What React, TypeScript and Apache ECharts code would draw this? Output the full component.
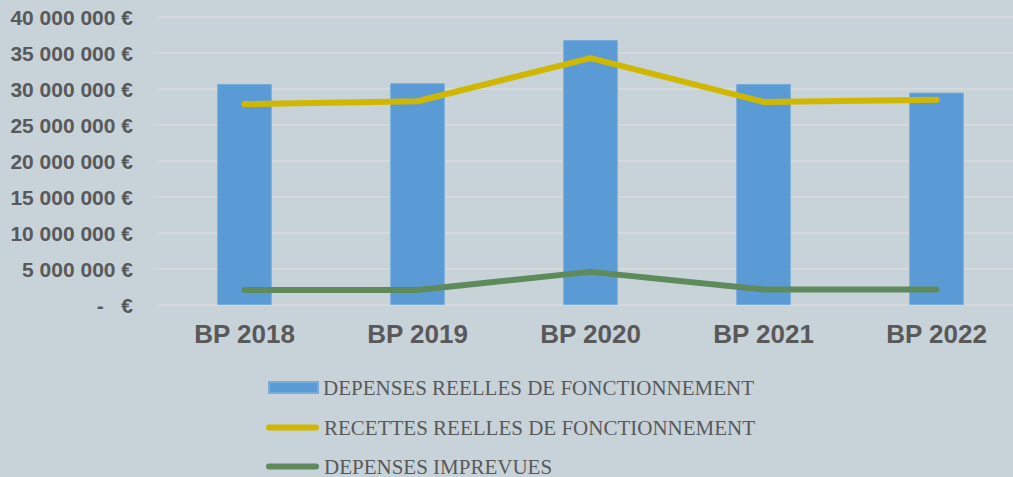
import React, { useEffect, useRef } from "react";
import * as echarts from "echarts";

const categories = ["BP 2018", "BP 2019", "BP 2020", "BP 2021", "BP 2022"];
const depensesReelles = [30700000, 30800000, 36800000, 30700000, 29500000];
const recettesReelles = [27900000, 28300000, 34300000, 28200000, 28500000];
const depensesImprevues = [2080000, 2080000, 4600000, 2150000, 2150000];
const seriesNames = [
  "DEPENSES REELLES DE FONCTIONNEMENT",
  "RECETTES REELLES DE FONCTIONNEMENT",
  "DEPENSES IMPREVUES",
];

const barColor = "#5b9bd5";
const yellow = "#d1b800";
const green = "#5f8b5c";

function fmt(v: number): string {
  if (v === 0) return "-   €";
  const s = Math.round(v).toString().replace(/\B(?=(\d{3})+(?!\d))/g, " ");
  return s + " €";
}

const lineIcon =
  "path://M3,0 L50,0 A3,3 0 0 1 50,6 L3,6 A3,3 0 0 1 3,0 Z";

const legendText = {
  color: "#595959",
  fontFamily: "Liberation Serif",
  fontSize: 21,
};

export default function App() {
  const ref = useRef<HTMLDivElement>(null);
  useEffect(() => {
    const chart = echarts.init(ref.current!, null, { renderer: "svg" });
    chart.setOption({
      animation: false,
      backgroundColor: "#c7d2d9",
      grid: {
        left: 158,
        width: 865,
        top: 17,
        bottom: 172,
        containLabel: false,
        outerBoundsMode: "none",
      },
      xAxis: {
        type: "category",
        data: categories,
        axisLine: { show: false },
        axisTick: { show: false },
        axisLabel: {
          color: "#595959",
          fontFamily: "Liberation Sans",
          fontWeight: "bold",
          fontSize: 26,
          margin: 16,
        },
      },
      yAxis: {
        type: "value",
        min: 0,
        max: 40000000,
        interval: 5000000,
        axisLine: { show: false },
        axisTick: { show: false },
        splitLine: { lineStyle: { color: "#d6d9db", width: 2 } },
        axisLabel: {
          color: "#595959",
          fontFamily: "Liberation Sans",
          fontWeight: "bold",
          fontSize: 21,
          margin: 25,
          formatter: (v: number) => fmt(v),
        },
      },
      legend: [
        {
          orient: "vertical",
          left: 268,
          top: 377,
          padding: 0,
          itemWidth: 49,
          itemHeight: 11,
          icon: "rect",
          textStyle: legendText,
          data: [seriesNames[0]],
        },
        {
          orient: "vertical",
          left: 266,
          top: 417,
          padding: 0,
          itemWidth: 53,
          itemHeight: 6,
          icon: lineIcon,
          textStyle: legendText,
          data: [seriesNames[1]],
        },
        {
          orient: "vertical",
          left: 266,
          top: 456,
          padding: 0,
          itemWidth: 53,
          itemHeight: 6,
          icon: lineIcon,
          textStyle: legendText,
          data: [seriesNames[2]],
        },
      ],
      series: [
        {
          name: seriesNames[0],
          type: "bar",
          data: depensesReelles,
          barWidth: "31.6%",
          itemStyle: { color: barColor, borderColor: "#79acdb", borderWidth: 1 },
        },
        {
          name: seriesNames[1],
          type: "line",
          data: recettesReelles,
          symbol: "none",
          lineStyle: { color: yellow, width: 6, cap: "round", join: "round" },
          itemStyle: { color: yellow },
        },
        {
          name: seriesNames[2],
          type: "line",
          data: depensesImprevues,
          symbol: "none",
          lineStyle: { color: green, width: 6, cap: "round", join: "round" },
          itemStyle: { color: green },
        },
      ],
    });
    return () => chart.dispose();
  }, []);
  return (
    <div
      ref={ref}
      style={{ position: "absolute", left: 0, top: 0, width: 1013, height: 477 }}
    />
  );
}
